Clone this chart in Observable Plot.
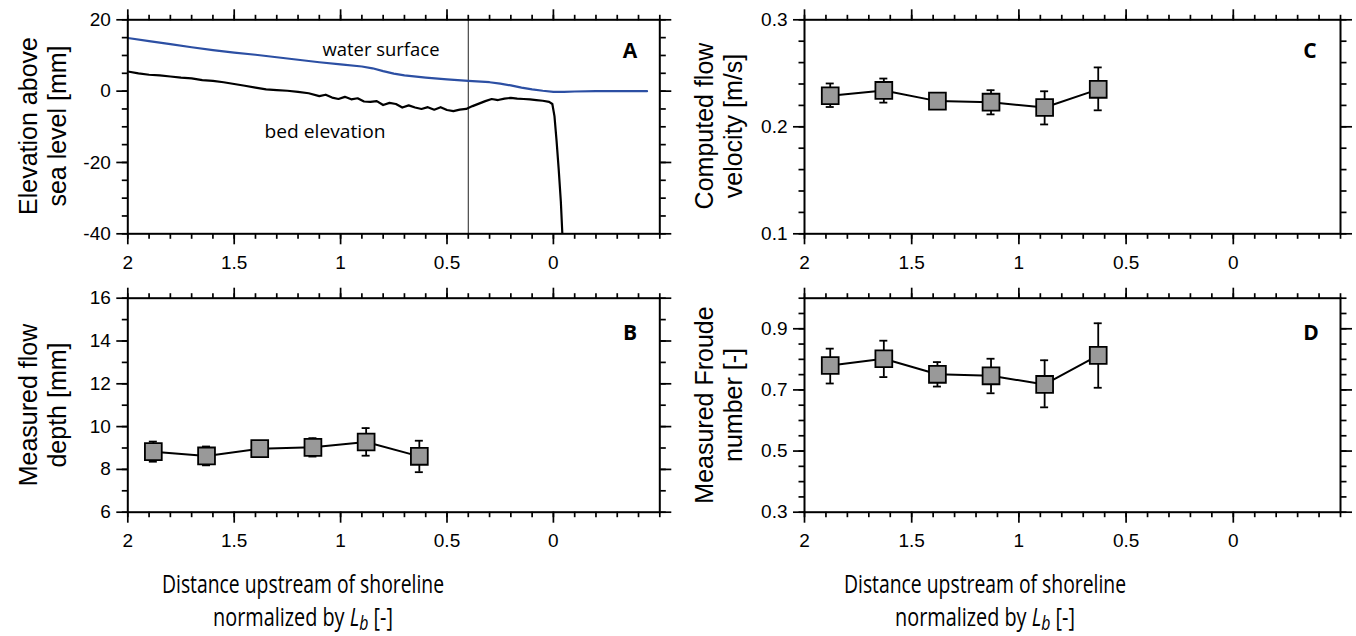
<!DOCTYPE html>
<html>
<head>
<meta charset="utf-8">
<script src="https://cdn.jsdelivr.net/npm/d3@7"></script>
<script src="https://cdn.jsdelivr.net/npm/@observablehq/plot@0.6"></script>
<style>
  html, body { margin: 0; padding: 0; background: #fff; }
  body { width: 1356px; height: 636px; position: relative; overflow: hidden; font-family: "Liberation Sans", Arial, sans-serif; }
  .panel { position: absolute; }
  .panel svg { overflow: visible; }
  .lbl { position: absolute; white-space: nowrap; color: #000; line-height: 1; }
  .ytitle { font-family: "Liberation Sans", Arial, sans-serif; font-size: 25px; line-height: 29px; text-align: center; }
  .xtitle { font-family: "Open Sans", "Noto Sans", sans-serif; font-size: 25px; line-height: 0.95; }
  .note { font-family: "Open Sans", "Noto Sans", sans-serif; font-size: 19px; }
  .letter { font-family: "Open Sans", "Noto Sans", sans-serif; font-size: 21px; font-weight: bold; }
</style>
</head>
<body>
<script>
// ---------------- Data ----------------
// Panel A: longitudinal profile (x = distance upstream / Lb)
const waterX = [2.00, 1.90, 1.80, 1.70, 1.60, 1.50, 1.40, 1.30, 1.20, 1.10, 1.00, 0.90, 0.85, 0.80, 0.75, 0.70, 0.60, 0.50, 0.40, 0.30, 0.25, 0.20, 0.15, 0.10, 0.05, 0.00, -0.05, -0.10, -0.20, -0.30, -0.44];
const waterY = [14.9, 14.0, 13.2, 12.3, 11.5, 10.8, 10.2, 9.5, 8.8, 8.1, 7.5, 6.9, 6.4, 5.6, 4.9, 4.4, 3.8, 3.3, 2.9, 2.5, 2.1, 1.6, 1.0, 0.5, 0.1, -0.2, -0.2, -0.1, 0.0, 0.0, 0.0];

const bedX = [2.00, 1.95, 1.90, 1.85, 1.80, 1.75, 1.70, 1.65, 1.60, 1.55, 1.50, 1.45, 1.40, 1.35, 1.30, 1.25, 1.20, 1.15, 1.10, 1.07, 1.04, 1.01, 0.98, 0.95, 0.92, 0.89, 0.86, 0.83, 0.80, 0.77, 0.74, 0.71, 0.68, 0.65, 0.62, 0.59, 0.56, 0.53, 0.50, 0.47, 0.44, 0.41, 0.38, 0.35, 0.32, 0.29, 0.26, 0.23, 0.20, 0.17, 0.14, 0.11, 0.08, 0.05, 0.02, 0.005, -0.005, -0.015, -0.025, -0.035, -0.042];
const bedY = [5.5, 5.0, 4.6, 4.4, 4.1, 3.8, 3.6, 3.1, 2.9, 2.5, 2.0, 1.5, 1.0, 0.5, 0.3, 0.1, -0.2, -0.6, -1.4, -1.0, -1.8, -2.2, -1.6, -2.3, -2.0, -2.9, -3.0, -2.8, -3.9, -3.3, -3.6, -4.6, -4.0, -4.6, -5.0, -4.5, -5.2, -4.5, -5.3, -5.6, -5.2, -5.0, -4.2, -3.5, -2.8, -2.2, -2.5, -2.1, -1.9, -2.1, -2.2, -2.3, -2.5, -2.7, -3.0, -3.6, -7, -14, -22, -31, -40];
const sectionX = [0.4];

// Stations (panels B, C, D)
const stationX = [1.88, 1.63, 1.38, 1.13, 0.88, 0.63];
// B: measured flow depth [mm]
const depth   = [8.83, 8.63, 8.97, 9.03, 9.28, 8.61];
const depthLo = [8.36, 8.19, 8.80, 8.60, 8.64, 7.87];
const depthHi = [9.30, 9.07, 9.15, 9.46, 9.93, 9.34];
// C: computed flow velocity [m/s]
const velocity = [0.229, 0.234, 0.224, 0.223, 0.218, 0.235];
const velLo    = [0.2185, 0.2226, 0.220, 0.2116, 0.2022, 0.2154];
const velHi    = [0.2405, 0.2451, 0.228, 0.2342, 0.2332, 0.2555];
// D: measured Froude number [-]
const froude   = [0.780, 0.802, 0.751, 0.746, 0.718, 0.813];
const froudeLo = [0.721, 0.742, 0.711, 0.689, 0.643, 0.707];
const froudeHi = [0.835, 0.861, 0.791, 0.802, 0.797, 0.918];

// Ticks
const xMajor = [2, 1.5, 1, 0.5, 0];
const xMinor = d3.range(-5, 21).map(i => i / 10);
const yMajorA = [-40, -20, 0, 20];
const yMinorA = d3.range(-40, 21, 5);
const yMajorB = [6, 8, 10, 12, 14, 16];
const yMinorB = d3.range(6, 17, 1);
const yMajorC = [0.1, 0.2, 0.3];
const yMinorC = d3.range(10, 31, 2).map(i => i / 100);
const yMajorD = [0.3, 0.5, 0.7, 0.9];
const yMinorD = d3.range(30, 101, 5).map(i => i / 100);

// ---------------- Helpers ----------------
const SW = 1.7;
const fmt = d => String(d);
const blank = () => "";

function axes(yMajor, yMinor) {
  return [
    Plot.axisX({anchor: "bottom", ticks: xMajor, tickSize: 11, tickPadding: 10.5, tickFormat: fmt, strokeWidth: SW, label: null}),
    Plot.axisX({anchor: "bottom", ticks: xMinor, tickSize: 5.5, tickFormat: blank, strokeWidth: SW, label: null}),
    Plot.axisX({anchor: "top", ticks: xMajor, tickSize: 11, tickFormat: blank, strokeWidth: SW, label: null}),
    Plot.axisX({anchor: "top", ticks: xMinor, tickSize: 5.5, tickFormat: blank, strokeWidth: SW, label: null}),
    Plot.axisY({anchor: "left", ticks: yMajor, tickSize: 11, tickPadding: 6, tickFormat: fmt, strokeWidth: SW, label: null}),
    Plot.axisY({anchor: "left", ticks: yMinor, tickSize: 5.5, tickFormat: blank, strokeWidth: SW, label: null}),
    Plot.axisY({anchor: "right", ticks: yMajor, tickSize: 11, tickFormat: blank, strokeWidth: SW, label: null}),
    Plot.axisY({anchor: "right", ticks: yMinor, tickSize: 5.5, tickFormat: blank, strokeWidth: SW, label: null}),
    Plot.frame({stroke: "black", strokeWidth: 2})
  ];
}

function stationMarks(vals, lo, hi) {
  const rows = stationX.map((x, i) => ({x, v: vals[i], lo: lo[i], hi: hi[i]}));
  return [
    Plot.ruleX(rows, {x: "x", y1: "lo", y2: "hi", stroke: "black", strokeWidth: 1.8}),
    Plot.ruleY(rows, {y: "lo", x1: "x", x2: "x", insetLeft: -4, insetRight: -4, stroke: "black", strokeWidth: 1.8}),
    Plot.ruleY(rows, {y: "hi", x1: "x", x2: "x", insetLeft: -4, insetRight: -4, stroke: "black", strokeWidth: 1.8}),
    Plot.line(rows, {x: "x", y: "v", stroke: "black", strokeWidth: 2}),
    Plot.dot(rows, {x: "x", y: "v", symbol: "square", r: 9.5, fill: "#999999", stroke: "black", strokeWidth: 1.8})
  ];
}

function mount(plot, left, top) {
  const d = document.createElement("div");
  d.className = "panel";
  d.style.left = left + "px";
  d.style.top = top + "px";
  d.appendChild(plot);
  document.body.appendChild(d);
}

const baseStyle = {fontFamily: "Liberation Sans, Arial, sans-serif", fontSize: "19px", color: "black", background: "transparent", overflow: "visible"};

// ---------------- Panel A ----------------
const waterRows = waterX.map((x, i) => [x, waterY[i]]);
const bedRows = bedX.map((x, i) => [x, bedY[i]]);
mount(Plot.plot({
  width: 680, height: 280,
  marginLeft: 127.3, marginRight: 20.7, marginTop: 19.3, marginBottom: 46.7,
  x: {domain: [2, -0.5], label: null},
  y: {domain: [-40, 20], label: null},
  style: baseStyle,
  marks: [
    Plot.ruleX(sectionX, {stroke: "#222", strokeWidth: 1}),
    Plot.line(waterRows, {stroke: "#2c4fa3", strokeWidth: 2.2, clip: true}),
    Plot.line(bedRows, {stroke: "black", strokeWidth: 2.2, clip: true}),
    ...axes(yMajorA, yMinorA)
  ]
}), 0, 0);

// ---------------- Panel C ----------------
mount(Plot.plot({
  width: 676, height: 280,
  marginLeft: 124, marginRight: 16, marginTop: 19.3, marginBottom: 46.7,
  x: {domain: [2, -0.5], label: null},
  y: {domain: [0.1, 0.3], label: null},
  style: baseStyle,
  marks: [...stationMarks(velocity, velLo, velHi), ...axes(yMajorC, yMinorC)]
}), 680, 0);

// ---------------- Panel B ----------------
mount(Plot.plot({
  width: 680, height: 300,
  marginLeft: 127.3, marginRight: 20.7, marginTop: 17.7, marginBottom: 68.3,
  x: {domain: [2, -0.5], label: null},
  y: {domain: [6, 16], label: null},
  style: baseStyle,
  marks: [...stationMarks(depth, depthLo, depthHi), ...axes(yMajorB, yMinorB)]
}), 0, 280);

// ---------------- Panel D ----------------
mount(Plot.plot({
  width: 676, height: 300,
  marginLeft: 124, marginRight: 16, marginTop: 17.7, marginBottom: 68.3,
  x: {domain: [2, -0.5], label: null},
  y: {domain: [0.3, 1.0], label: null},
  style: baseStyle,
  marks: [...stationMarks(froude, froudeLo, froudeHi), ...axes(yMajorD, yMinorD)]
}), 680, 280);

// ---------------- Text ----------------
function place(html, cls, cx, cy, targetW, rotate) {
  const d = document.createElement("div");
  d.className = "lbl " + cls;
  d.innerHTML = html;
  d.style.left = cx + "px";
  d.style.top = cy + "px";
  document.body.appendChild(d);
  const w = d.getBoundingClientRect().width;
  const s = targetW ? targetW / w : 1;
  d.style.transform = `translate(-50%,-50%) ${rotate ? "rotate(-90deg)" : ""} scaleX(${s})`;
  return d;
}

// y titles
place("Elevation above<br>sea level [mm]", "ytitle", 43, 126.3, 0, true);
place("Measured flow<br>depth [mm]", "ytitle", 43, 404.7, 0, true);
place("Computed flow<br>velocity [m/s]", "ytitle", 719, 126.3, 0, true);
place("Measured Froude<br>number [-]", "ytitle", 719, 404.7, 0, true);

// x titles
const xt1 = "Distance upstream of shoreline";
const xt2 = "normalized by <i>L</i><sub style=\"font-size:0.8em;vertical-align:-0.2em;line-height:0\"><i>b</i></sub> [-]";
place(xt1, "xtitle", 303, 584, 282);
place(xt2, "xtitle", 303, 617, 180);
place(xt1, "xtitle", 985, 584, 282);
place(xt2, "xtitle", 985, 617, 180);

// annotations
place("water surface", "note", 381, 49, 117);
place("bed elevation", "note", 325, 131, 121);

// panel letters
place("A", "letter", 630, 50, 0);
place("B", "letter", 630, 332, 0);
place("C", "letter", 1310, 50, 0);
place("D", "letter", 1311, 332, 0);
</script>
</body>
</html>
